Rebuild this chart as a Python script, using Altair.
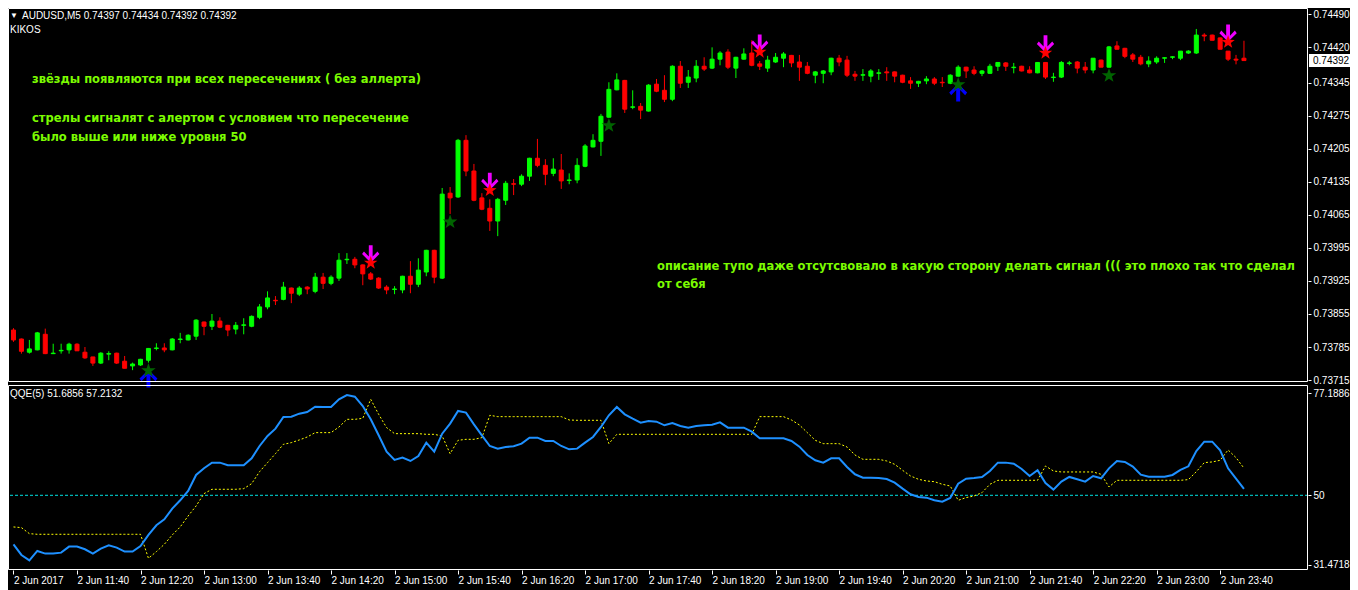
import altair as alt
import pandas as pd

# ---------------- data ----------------
TIME_LABELS = ["2 Jun 2017", "2 Jun 11:40", "2 Jun 12:20", "2 Jun 13:00", "2 Jun 13:40",
               "2 Jun 14:20", "2 Jun 15:00", "2 Jun 15:40", "2 Jun 16:20", "2 Jun 17:00",
               "2 Jun 17:40", "2 Jun 18:20", "2 Jun 19:00", "2 Jun 19:40", "2 Jun 20:20",
               "2 Jun 21:00", "2 Jun 21:40", "2 Jun 22:20", "2 Jun 23:00", "2 Jun 23:40"]

OPEN = [0.73821, 0.73802, 0.73774, 0.73779, 0.73812, 0.73771, 0.73777, 0.73779, 0.73791, 0.73774,
        0.73764, 0.73751, 0.73770, 0.73772, 0.73755, 0.73745, 0.73747, 0.73757, 0.73782, 0.73783,
        0.73779, 0.73801, 0.73800, 0.73808, 0.73838, 0.73829, 0.73840, 0.73831, 0.73823, 0.73831,
        0.73829, 0.73848, 0.73870, 0.73884, 0.73886, 0.73910, 0.73897, 0.73912, 0.73903, 0.73933,
        0.73920, 0.73931, 0.73970, 0.73971, 0.73959, 0.73940, 0.73931, 0.73912, 0.73907, 0.73906,
        0.73935, 0.73918, 0.73944, 0.73990, 0.73931, 0.74111, 0.74103, 0.74223, 0.74158, 0.74101,
        0.74079, 0.74052, 0.74096, 0.74131, 0.74130, 0.74147, 0.74185, 0.74170, 0.74153, 0.74160,
        0.74138, 0.74139, 0.74168, 0.74209, 0.74221, 0.74272, 0.74330, 0.74350, 0.74293, 0.74295,
        0.74285, 0.74342, 0.74329, 0.74310, 0.74380, 0.74346, 0.74355, 0.74380, 0.74376, 0.74395,
        0.74410, 0.74376, 0.74395, 0.74408, 0.74385, 0.74376, 0.74389, 0.74397, 0.74403, 0.74389,
        0.74380, 0.74361, 0.74365, 0.74368, 0.74397, 0.74393, 0.74363, 0.74361, 0.74359, 0.74365,
        0.74368, 0.74368, 0.74361, 0.74349, 0.74344, 0.74349, 0.74353, 0.74346, 0.74344, 0.74359,
        0.74378, 0.74372, 0.74365, 0.74365, 0.74380, 0.74387, 0.74377, 0.74380, 0.74372, 0.74366,
        0.74388, 0.74356, 0.74357, 0.74386, 0.74389, 0.74378, 0.74372, 0.74393, 0.74378, 0.74423,
        0.74418, 0.74404, 0.74399, 0.74385, 0.74389, 0.74397, 0.74399, 0.74397, 0.74408, 0.74408,
        0.74446, 0.74446, 0.74440, 0.74412, 0.74395, 0.74397]

HIGH = [0.73825, 0.73803, 0.73800, 0.73817, 0.73824, 0.73792, 0.73792, 0.73794, 0.73793, 0.73785,
        0.73764, 0.73774, 0.73776, 0.73773, 0.73766, 0.73752, 0.73760, 0.73783, 0.73793, 0.73793,
        0.73804, 0.73815, 0.73812, 0.73844, 0.73839, 0.73855, 0.73848, 0.73832, 0.73838, 0.73846,
        0.73852, 0.73876, 0.73903, 0.73893, 0.73923, 0.73911, 0.73914, 0.73914, 0.73942, 0.73942,
        0.73937, 0.73984, 0.73984, 0.73976, 0.73960, 0.73944, 0.73933, 0.73916, 0.73914, 0.73936,
        0.73967, 0.73973, 0.73991, 0.73991, 0.74122, 0.74124, 0.74226, 0.74234, 0.74173, 0.74111,
        0.74098, 0.74101, 0.74137, 0.74141, 0.74151, 0.74186, 0.74226, 0.74183, 0.74185, 0.74194,
        0.74153, 0.74185, 0.74215, 0.74236, 0.74279, 0.74346, 0.74365, 0.74351, 0.74329, 0.74302,
        0.74342, 0.74353, 0.74361, 0.74382, 0.74391, 0.74372, 0.74393, 0.74399, 0.74420, 0.74412,
        0.74416, 0.74400, 0.74418, 0.74435, 0.74391, 0.74402, 0.74408, 0.74410, 0.74404, 0.74404,
        0.74389, 0.74370, 0.74372, 0.74398, 0.74404, 0.74402, 0.74370, 0.74374, 0.74374, 0.74374,
        0.74378, 0.74369, 0.74362, 0.74357, 0.74349, 0.74359, 0.74357, 0.74357, 0.74363, 0.74382,
        0.74379, 0.74380, 0.74372, 0.74385, 0.74389, 0.74389, 0.74387, 0.74381, 0.74380, 0.74389,
        0.74389, 0.74366, 0.74391, 0.74391, 0.74391, 0.74389, 0.74397, 0.74394, 0.74423, 0.74433,
        0.74419, 0.74408, 0.74404, 0.74401, 0.74401, 0.74399, 0.74401, 0.74412, 0.74414, 0.74459,
        0.74450, 0.74447, 0.74441, 0.74412, 0.74404, 0.74434]

LOW = [0.73796, 0.73771, 0.73771, 0.73778, 0.73770, 0.73770, 0.73771, 0.73771, 0.73777, 0.73760,
       0.73745, 0.73749, 0.73757, 0.73749, 0.73740, 0.73736, 0.73745, 0.73752, 0.73778, 0.73774,
       0.73778, 0.73793, 0.73799, 0.73800, 0.73810, 0.73821, 0.73825, 0.73808, 0.73812, 0.73812,
       0.73827, 0.73844, 0.73865, 0.73874, 0.73884, 0.73878, 0.73893, 0.73897, 0.73899, 0.73908,
       0.73916, 0.73925, 0.73961, 0.73952, 0.73916, 0.73927, 0.73908, 0.73897, 0.73897, 0.73899,
       0.73899, 0.73912, 0.73935, 0.73920, 0.73929, 0.74067, 0.74101, 0.74147, 0.74094, 0.74075,
       0.74031, 0.74020, 0.74086, 0.74107, 0.74126, 0.74137, 0.74166, 0.74128, 0.74147, 0.74120,
       0.74130, 0.74132, 0.74166, 0.74208, 0.74190, 0.74271, 0.74329, 0.74281, 0.74289, 0.74268,
       0.74284, 0.74325, 0.74304, 0.74306, 0.74334, 0.74334, 0.74346, 0.74370, 0.74374, 0.74382,
       0.74374, 0.74355, 0.74394, 0.74380, 0.74372, 0.74368, 0.74387, 0.74378, 0.74378, 0.74349,
       0.74363, 0.74344, 0.74344, 0.74361, 0.74380, 0.74357, 0.74349, 0.74349, 0.74346, 0.74351,
       0.74349, 0.74346, 0.74344, 0.74332, 0.74336, 0.74342, 0.74340, 0.74336, 0.74342, 0.74358,
       0.74355, 0.74361, 0.74359, 0.74364, 0.74370, 0.74370, 0.74365, 0.74369, 0.74365, 0.74365,
       0.74353, 0.74347, 0.74355, 0.74382, 0.74365, 0.74365, 0.74365, 0.74378, 0.74377, 0.74416,
       0.74397, 0.74389, 0.74382, 0.74378, 0.74385, 0.74387, 0.74395, 0.74393, 0.74406, 0.74406,
       0.74433, 0.74435, 0.74416, 0.74391, 0.74384, 0.74392]

CLOSE = [0.73800, 0.73776, 0.73781, 0.73815, 0.73771, 0.73772, 0.73778, 0.73791, 0.73777, 0.73762,
         0.73751, 0.73772, 0.73771, 0.73751, 0.73740, 0.73749, 0.73759, 0.73782, 0.73783, 0.73779,
         0.73802, 0.73802, 0.73810, 0.73842, 0.73829, 0.73840, 0.73827, 0.73821, 0.73831, 0.73832,
         0.73850, 0.73870, 0.73889, 0.73883, 0.73912, 0.73899, 0.73910, 0.73908, 0.73933, 0.73920,
         0.73933, 0.73969, 0.73971, 0.73959, 0.73940, 0.73929, 0.73910, 0.73906, 0.73908, 0.73935,
         0.73918, 0.73948, 0.73990, 0.73933, 0.74109, 0.74101, 0.74223, 0.74158, 0.74096, 0.74077,
         0.74052, 0.74098, 0.74132, 0.74130, 0.74147, 0.74185, 0.74170, 0.74151, 0.74162, 0.74137,
         0.74139, 0.74170, 0.74211, 0.74223, 0.74274, 0.74331, 0.74351, 0.74289, 0.74294, 0.74287,
         0.74340, 0.74327, 0.74310, 0.74380, 0.74344, 0.74357, 0.74380, 0.74374, 0.74395, 0.74408,
         0.74378, 0.74399, 0.74406, 0.74382, 0.74380, 0.74393, 0.74399, 0.74406, 0.74387, 0.74378,
         0.74365, 0.74368, 0.74370, 0.74397, 0.74389, 0.74361, 0.74359, 0.74362, 0.74370, 0.74366,
         0.74366, 0.74359, 0.74346, 0.74344, 0.74348, 0.74353, 0.74344, 0.74345, 0.74361, 0.74378,
         0.74370, 0.74365, 0.74370, 0.74380, 0.74388, 0.74380, 0.74378, 0.74370, 0.74366, 0.74388,
         0.74357, 0.74357, 0.74388, 0.74387, 0.74376, 0.74372, 0.74397, 0.74378, 0.74421, 0.74416,
         0.74401, 0.74395, 0.74385, 0.74391, 0.74397, 0.74398, 0.74400, 0.74412, 0.74412, 0.74446,
         0.74444, 0.74435, 0.74416, 0.74395, 0.74393, 0.74392]

QQE_RSI = [36.97, 34.13, 32.71, 35.20, 34.49, 34.49, 34.75, 36.35, 36.35, 35.64,
           34.49, 35.82, 36.70, 36.08, 35.02, 35.02, 36.52, 39.45, 42.02, 43.62,
           46.45, 48.67, 51.15, 55.41, 57.18, 58.69, 58.69, 57.98, 57.98, 57.98,
           59.84, 63.12, 65.78, 67.73, 70.83, 70.92, 71.72, 72.16, 73.58, 73.49,
           73.49, 75.53, 76.68, 76.24, 73.76, 70.21, 65.96, 61.61, 59.40, 60.02,
           59.13, 60.46, 64.01, 61.61, 66.40, 69.06, 72.43, 71.99, 68.88, 65.96,
           63.12, 62.41, 62.85, 63.03, 63.74, 65.34, 65.34, 64.45, 64.45, 63.12,
           62.23, 62.41, 64.01, 65.51, 68.17, 71.28, 73.49, 71.54, 70.39, 69.33,
           69.77, 69.59, 68.62, 69.24, 68.44, 68.00, 68.44, 68.62, 68.79, 69.41,
           68.00, 68.00, 68.00, 66.93, 65.16, 65.16, 65.16, 65.16, 64.45, 62.94,
           60.73, 59.31, 58.69, 59.84, 59.84, 57.54, 55.59, 54.70, 54.70, 54.61,
           54.34, 53.37, 51.77, 50.27, 49.56, 49.38, 48.67, 48.32, 49.29, 53.10,
           54.43, 54.61, 54.88, 56.47, 58.69, 58.69, 58.42, 57.00, 55.14, 56.65,
           53.28, 51.51, 53.63, 54.88, 54.26, 53.63, 55.14, 54.52, 57.18, 59.13,
           58.87, 57.62, 55.50, 54.96, 54.96, 54.96, 55.41, 56.74, 57.71, 61.79,
           64.27, 64.27, 61.97, 57.18, 54.43, 51.6856]

QQE_TRAIL = [41.58, 41.40, 39.80, 39.63, 39.63, 39.63, 39.63, 39.63, 39.63, 39.63,
             39.63, 39.63, 39.63, 39.63, 39.63, 39.63, 39.63, 33.24, 35.02, 36.97,
             39.45, 41.58, 44.50, 47.16, 50.44, 51.60, 51.60, 51.60, 51.60, 51.77,
             53.10, 56.29, 58.69, 61.08, 63.56, 64.01, 64.72, 65.51, 66.67, 66.67,
             66.67, 68.17, 70.21, 70.21, 70.48, 75.53, 71.54, 68.00, 66.40, 66.40,
             66.40, 66.40, 66.22, 66.22, 65.78, 61.08, 64.63, 64.89, 64.89, 65.34,
             71.28, 70.92, 70.92, 70.92, 70.92, 70.92, 70.92, 70.92, 70.92, 70.92,
             70.04, 69.95, 69.95, 69.95, 69.95, 63.74, 66.22, 66.22, 66.22, 66.22,
             66.22, 66.22, 66.22, 66.22, 66.22, 66.22, 66.22, 66.22, 66.22, 66.22,
             66.22, 66.22, 66.22, 66.22, 70.92, 70.92, 70.92, 70.92, 70.04, 68.71,
             66.67, 64.63, 63.74, 63.74, 63.74, 62.85, 60.73, 59.57, 59.57, 59.57,
             59.13, 58.24, 56.65, 55.14, 54.26, 53.81, 53.63, 52.93, 52.48, 48.67,
             49.38, 49.82, 50.71, 52.93, 53.99, 53.99, 53.99, 53.99, 53.99, 53.99,
             57.80, 56.47, 56.21, 56.21, 56.21, 56.21, 56.21, 55.59, 52.22, 53.99,
             53.99, 53.99, 53.99, 53.99, 53.99, 53.99, 53.99, 53.99, 54.17, 56.29,
             58.69, 58.87, 59.31, 62.06, 60.02, 57.2132]

STAR_UP = [17, 55, 75, 119, 138]
STAR_DOWN = [45, 60, 94, 130, 153]
ARROW_UP = [17, 119]
ARROW_DOWN = [45, 60, 94, 130, 153]

PRICE_TICKS = [0.74490, 0.74420, 0.74345, 0.74275, 0.74205, 0.74135, 0.74065,
               0.73995, 0.73925, 0.73855, 0.73785, 0.73715]
QQE_TICKS = [77.1886, 50, 31.4718]
LEVEL = [50]
LAST_PRICE = [0.74392]

HEADER = "AUDUSD,M5  0.74397 0.74434 0.74392 0.74392"
INDICATOR = "KIKOS"
QQE_HEADER = "QQE(5) 51.6856 57.2132"
NOTES = ["звёзды появляются при всех пересечениях ( без аллерта)",
         "стрелы сигналят с алертом с условием что пересечение",
         "было выше или ниже уровня 50",
         "описание тупо даже отсутсвовало в какую сторону делать сигнал ((( это плохо так что сделал",
         "от себя"]

# ---------------- layout / style ----------------
W = 1300
MAIN_H = 374
QQE_TOP = 377
H = 562
X_DOMAIN = [-0.0625, (W - 0.5) / 8]
PRICE_DOMAIN = [0.737109, 0.745034]
QQE_DOMAIN = [30.13, 79.34]

FONT = "Liberation Sans"
NOTE_FONT = "DejaVu Sans"
BULL = "#00FF00"
BEAR = "#FF0000"
NOTE_COLOR = "#7CFC00"
NOTE_POS = [(24, 72), (24, 111), (24, 130), (649, 259), (649, 277)]

STAR_PATH = ("M0,-1 L0.235,-0.324 L0.951,-0.309 L0.38,0.124 L0.588,0.809 L0,0.4 "
             "L-0.588,0.809 L-0.38,0.124 L-0.951,-0.309 L-0.235,-0.324 Z")
DOWN_PATH = "M-0.22,-1 L0.22,-1 L0.22,0.3 L0.78,-0.3 L1,0 L0,1 L-1,0 L-0.78,-0.3 L-0.22,0.3 Z"
UP_PATH = "M-0.22,1 L0.22,1 L0.22,-0.3 L0.78,0.3 L1,0 L0,-1 L-1,0 L-0.78,0.3 L-0.22,-0.3 Z"

n = len(OPEN)
candles = pd.DataFrame({"i": list(range(n)), "o": OPEN, "h": HIGH, "l": LOW, "c": CLOSE})
candles["col"] = [BULL if c >= o else BEAR for o, c in zip(OPEN, CLOSE)]
qqe = pd.DataFrame({"i": list(range(n)), "rsi": QQE_RSI, "trail": QQE_TRAIL})

x_scale = alt.Scale(domain=X_DOMAIN, zero=False, nice=False)
label_list = "[" + ",".join("'" + s + "'" for s in TIME_LABELS) + "]"
x_axis = alt.Axis(values=list(range(0, 8 * len(TIME_LABELS), 8)),
                  labelExpr=label_list + "[round(datum.value / 8)]",
                  orient="bottom", labelAlign="left", labelBaseline="top", labelFlush=False,
                  labelOverlap=False, tickSize=4, labelPadding=1, domain=False, grid=False,
                  labelFont=FONT, labelFontSize=10, labelColor="white", tickColor="white")

price_scale = alt.Scale(domain=PRICE_DOMAIN, range=[MAIN_H, 0], zero=False, nice=False)
price_axis = alt.Axis(values=PRICE_TICKS, format=".5f", orient="right", tickSize=3,
                      labelPadding=2, domain=False, grid=False, labelFont=FONT,
                      labelFontSize=10, labelColor="white", tickColor="white")
qqe_scale = alt.Scale(domain=QQE_DOMAIN, range=[H, QQE_TOP], zero=False, nice=False)
qqe_axis = alt.Axis(values=QQE_TICKS,
                    labelExpr="datum.value == 50 ? '50' : format(datum.value, '.4f')",
                    orient="right", tickSize=3, labelPadding=2, domain=False, grid=False,
                    labelFont=FONT, labelFontSize=10, labelColor="white", tickColor="white")


def X(field):
    return alt.X(field, type="quantitative", scale=x_scale, axis=x_axis, title=None)


def PY(field):
    return alt.Y(field, type="quantitative", scale=price_scale, axis=price_axis, title=None)


def QY(field):
    return alt.Y(field, type="quantitative", scale=qqe_scale, axis=qqe_axis, title=None)


def sig(idx, series):
    return pd.DataFrame({"i": idx, "p": [series[k] for k in idx]})


wicks = alt.Chart(candles).mark_rule(strokeWidth=1).encode(
    x=X("i"), y=PY("l"), y2="h:Q", color=alt.Color("col:N", scale=None))
bodies = alt.Chart(candles).mark_bar(width=4, strokeWidth=1).encode(
    x=X("i"), y=PY("o"), y2="c:Q",
    color=alt.Color("col:N", scale=None), stroke=alt.Stroke("col:N", scale=None))

arrow_up = alt.Chart(sig(ARROW_UP, LOW)).mark_point(
    shape=UP_PATH, filled=True, size=320, color="#0000FF", opacity=1, strokeWidth=0, yOffset=16
).encode(x=X("i"), y=PY("p"))
arrow_down = alt.Chart(sig(ARROW_DOWN, HIGH)).mark_point(
    shape=DOWN_PATH, filled=True, size=300, color="#EE00FF", opacity=1, strokeWidth=0, yOffset=-18
).encode(x=X("i"), y=PY("p"))
star_up = alt.Chart(sig(STAR_UP, LOW)).mark_point(
    shape=STAR_PATH, filled=True, size=230, color="#006400", opacity=1, strokeWidth=0, yOffset=8
).encode(x=X("i"), y=PY("p"))
star_down = alt.Chart(sig(STAR_DOWN, HIGH)).mark_point(
    shape=STAR_PATH, filled=True, size=200, color="#FF0000", opacity=1, strokeWidth=0, yOffset=-9
).encode(x=X("i"), y=PY("p"))

last_df = pd.DataFrame({"p": LAST_PRICE, "t": [f"{v:.5f}" for v in LAST_PRICE]})
last_box = alt.Chart(last_df).mark_tick(
    orient="horizontal", size=44, thickness=13, color="white", opacity=1
).encode(x=alt.value(W + 23), y=PY("p"))
last_text = alt.Chart(last_df).mark_text(
    align="left", baseline="middle", color="black", font=FONT, fontSize=10
).encode(x=alt.value(W + 5), y=PY("p"), text="t:N")

price_layer = alt.layer(wicks, bodies, arrow_up, arrow_down, star_up, star_down,
                        last_box, last_text)

level = alt.Chart(pd.DataFrame({"v": LEVEL})).mark_rule(
    color="#00E0E0", strokeDash=[3, 2], strokeWidth=1).encode(y=QY("v"))
trail = alt.Chart(qqe).mark_line(color="#FFFF00", strokeWidth=1, strokeDash=[2, 2]).encode(
    x=X("i"), y=QY("trail"))
rsi = alt.Chart(qqe).mark_line(color="#1E90FF", strokeWidth=2).encode(x=X("i"), y=QY("rsi"))
qqe_layer = alt.layer(level, trail, rsi)

one = pd.DataFrame({"k": [0]})
border_main = alt.Chart(one).mark_rect(fillOpacity=0, stroke="white", strokeWidth=1).encode(
    x=alt.value(0.5), x2=alt.value(W - 0.5), y=alt.value(0.5), y2=alt.value(MAIN_H - 0.5))
border_qqe = alt.Chart(one).mark_rect(fillOpacity=0, stroke="white", strokeWidth=1).encode(
    x=alt.value(0.5), x2=alt.value(W - 0.5), y=alt.value(QQE_TOP + 0.5), y2=alt.value(H - 0.5))


def label(text, x, y, color="white", font=FONT, size=10, weight="normal"):
    return alt.Chart(pd.DataFrame({"t": [text]})).mark_text(
        align="left", baseline="middle", color=color, font=font, fontSize=size, fontWeight=weight
    ).encode(x=alt.value(x), y=alt.value(y), text="t:N")


texts = [label("▼", 2, 8, size=8), label(HEADER, 14, 8), label(INDICATOR, 2, 22),
         label(QQE_HEADER, 2, 386)]
for note, (nx, ny) in zip(NOTES, NOTE_POS):
    texts.append(label(note, nx, ny, color=NOTE_COLOR, font=NOTE_FONT, size=11.5, weight="bold"))

chart = alt.layer(price_layer, qqe_layer, border_main, border_qqe, *texts).resolve_scale(
    y="independent"
).properties(
    width=W, height=H, background="#000000",
    autosize=alt.AutoSizeParams(type="none"),
    padding={"left": 0, "top": 0, "right": 42, "bottom": 20},
).configure_view(strokeWidth=0)

chart.save("out.html", embed_options={"renderer": "svg", "actions": False})
